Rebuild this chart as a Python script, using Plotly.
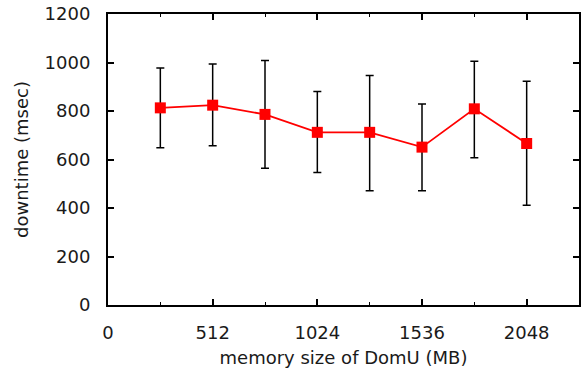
import plotly.graph_objects as go

memory_mb = [256, 512, 768, 1024, 1280, 1536, 1792, 2048]
downtime_ms = [813, 824, 786, 712, 712, 651, 809, 666]
err_high = [977, 994, 1008, 880, 946, 829, 1005, 923]
err_low = [648, 657, 564, 546, 471, 471, 607, 411]

x_tickvals = [0, 512, 1024, 1536, 2048]
y_tickvals = [0, 200, 400, 600, 800, 1000, 1200]

plus = [h - v for h, v in zip(err_high, downtime_ms)]
minus = [v - l for l, v in zip(err_low, downtime_ms)]

font = "DejaVu Sans, sans-serif"
txt = "#1a1a1a"

fig = go.Figure()
fig.add_trace(go.Scatter(
    x=memory_mb, y=downtime_ms, mode="lines+markers",
    line=dict(color="#ff0000", width=1.8),
    marker=dict(symbol="square", size=11, color="#ff0000"),
    error_y=dict(type="data", symmetric=False, array=plus, arrayminus=minus,
                 color="black", thickness=1.5, width=4),
    showlegend=False,
))

axis_common = dict(
    showline=True, linecolor="black", linewidth=2, mirror="allticks",
    ticks="inside", tickcolor="black", tickwidth=1.5, ticklen=6,
    showgrid=False, zeroline=False, automargin=False,
    ticklabeloverflow="allow",
    tickfont=dict(family=font, size=18, color=txt),
)

fig.update_xaxes(
    range=[0, 2304], tickvals=x_tickvals, ticktext=[str(v) for v in x_tickvals],
    minor=dict(tickvals=[256, 768, 1280, 1792], ticks="inside", ticklen=3, tickcolor="black", tickwidth=1.2),
    ticklabelstandoff=10,
    title=dict(text="memory size of DomU (MB)", font=dict(family=font, size=18, color=txt), standoff=10),
    **axis_common,
)
fig.update_yaxes(
    range=[0, 1200], tickvals=y_tickvals,
    ticklabelstandoff=12,
    title=dict(text="downtime (msec)", font=dict(family=font, size=18, color=txt), standoff=11),
    **axis_common,
)

fig.update_layout(
    width=587, height=373,
    margin=dict(l=108, r=8, t=14, b=68),
    plot_bgcolor="white", paper_bgcolor="white",
)

fig.write_html("out.html", config={"displayModeBar": False},
               post_script="document.body.style.margin='0';")
